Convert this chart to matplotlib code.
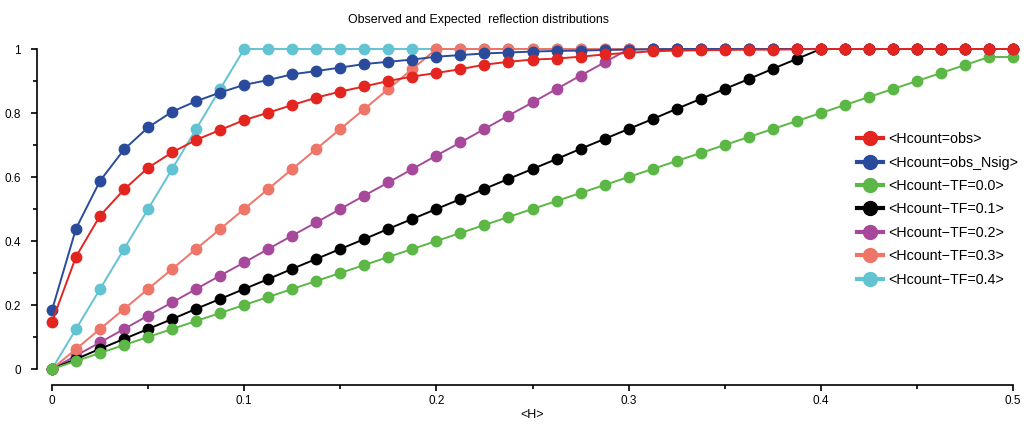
import matplotlib
matplotlib.use("Agg")
import matplotlib.pyplot as plt
from matplotlib.lines import Line2D
from matplotlib.ticker import MultipleLocator

plt.rcParams['font.family'] = ['Liberation Sans', 'DejaVu Sans']

# <H> values, step 0.0125
h = [0.0, 0.0125, 0.025, 0.0375, 0.05, 0.0625, 0.075, 0.0875, 0.1, 0.1125,
     0.125, 0.1375, 0.15, 0.1625, 0.175, 0.1875, 0.2, 0.2125, 0.225, 0.2375,
     0.25, 0.2625, 0.275, 0.2875, 0.3, 0.3125, 0.325, 0.3375, 0.35, 0.3625,
     0.375, 0.3875, 0.4, 0.4125, 0.425, 0.4375, 0.45, 0.4625, 0.475, 0.4875, 0.5]

obs = [0.147, 0.351, 0.479, 0.561, 0.629, 0.677, 0.716, 0.747, 0.778, 0.801,
       0.825, 0.848, 0.867, 0.883, 0.900, 0.914, 0.925, 0.937, 0.951, 0.960,
       0.967, 0.970, 0.976, 0.983, 0.988, 0.993, 0.995, 0.996, 0.997, 0.998,
       0.998, 0.999, 1.0, 1.0, 1.0, 1.0, 1.0, 1.0, 1.0, 1.0, 1.0]

obs_nsig = [0.184, 0.439, 0.588, 0.686, 0.755, 0.804, 0.837, 0.864, 0.888, 0.903,
            0.921, 0.931, 0.942, 0.953, 0.960, 0.967, 0.976, 0.981, 0.986, 0.989,
            0.992, 0.994, 0.995, 0.997, 0.998, 0.999, 1.0, 1.0, 1.0, 1.0,
            1.0, 1.0, 1.0, 1.0, 1.0, 1.0, 1.0, 1.0, 1.0, 1.0, 1.0]

tf00 = [0.0, 0.025, 0.05, 0.075, 0.1, 0.125, 0.15, 0.175, 0.2, 0.225,
        0.25, 0.275, 0.3, 0.325, 0.35, 0.375, 0.4, 0.425, 0.45, 0.475,
        0.5, 0.525, 0.55, 0.575, 0.6, 0.625, 0.65, 0.675, 0.7, 0.725,
        0.75, 0.775, 0.8, 0.825, 0.85, 0.875, 0.9, 0.925, 0.95, 0.975, 0.975]

tf01 = [0.0, 0.031, 0.063, 0.094, 0.125, 0.156, 0.188, 0.219, 0.25, 0.281,
        0.313, 0.344, 0.375, 0.406, 0.438, 0.469, 0.5, 0.531, 0.563, 0.594,
        0.625, 0.656, 0.688, 0.719, 0.75, 0.781, 0.813, 0.844, 0.875, 0.906,
        0.938, 0.969, 1.0, 1.0, 1.0, 1.0, 1.0, 1.0, 1.0, 1.0, 1.0]

tf02 = [0.0, 0.042, 0.083, 0.125, 0.167, 0.208, 0.25, 0.292, 0.333, 0.375,
        0.417, 0.458, 0.5, 0.542, 0.583, 0.625, 0.667, 0.708, 0.75, 0.792,
        0.833, 0.875, 0.917, 0.958, 1.0, 1.0, 1.0, 1.0, 1.0, 1.0,
        1.0, 1.0, 1.0, 1.0, 1.0, 1.0, 1.0, 1.0, 1.0, 1.0, 1.0]

tf03 = [0.0, 0.0625, 0.125, 0.1875, 0.25, 0.3125, 0.375, 0.4375, 0.5, 0.5625,
        0.625, 0.6875, 0.75, 0.8125, 0.875, 0.9375, 1.0, 1.0, 1.0, 1.0,
        1.0, 1.0, 1.0, 1.0, 1.0, 1.0, 1.0, 1.0, 1.0, 1.0,
        1.0, 1.0, 1.0, 1.0, 1.0, 1.0, 1.0, 1.0, 1.0, 1.0, 1.0]

tf04 = [0.0, 0.125, 0.25, 0.375, 0.5, 0.625, 0.75, 0.875, 1.0, 1.0,
        1.0, 1.0, 1.0, 1.0, 1.0, 1.0, 1.0, 1.0, 1.0, 1.0,
        1.0, 1.0, 1.0, 1.0, 1.0, 1.0, 1.0, 1.0, 1.0, 1.0,
        1.0, 1.0, 1.0, 1.0, 1.0, 1.0, 1.0, 1.0, 1.0, 1.0, 1.0]

labels = ['<Hcount=obs>', '<Hcount=obs_Nsig>', '<Hcount\u2212TF=0.0>', '<Hcount\u2212TF=0.1>',
          '<Hcount\u2212TF=0.2>', '<Hcount\u2212TF=0.3>', '<Hcount\u2212TF=0.4>']
series = [obs, obs_nsig, tf00, tf01, tf02, tf03, tf04]
colors = ['#e3241f', '#2a4b9b', '#5cb746', '#000000', '#a8489a', '#ee7567', '#62c3d3']
# drawing order, bottom to top
zorders = [9, 8, 7, 4, 3, 5, 2]

fig = plt.figure(figsize=(10.26, 4.26), dpi=100)
ax = fig.add_axes([52 / 1026, 57 / 426, 961 / 1026, 320 / 426])

for ys, c, z in zip(series, colors, zorders):
    ax.plot(h, ys, color=c, lw=1.4, marker='o', ms=7.5, mec=c, mfc=c,
            zorder=z, clip_on=False)

ax.set_xlim(0, 0.5)
ax.set_ylim(0, 1)
for s in ['top', 'right']:
    ax.spines[s].set_visible(False)
ax.spines['left'].set_position(('outward', 11))
ax.spines['bottom'].set_position(('outward', 11.5))
ax.spines['left'].set_bounds(0, 1)
ax.spines['bottom'].set_bounds(0, 0.5)
ax.spines['left'].set_linewidth(1.2)
ax.spines['bottom'].set_linewidth(1.2)

ax.set_xticks([0, 0.1, 0.2, 0.3, 0.4, 0.5])
ax.set_xticklabels(['0', '0.1', '0.2', '0.3', '0.4', '0.5'])
ax.set_yticks([0, 0.2, 0.4, 0.6, 0.8, 1])
ax.set_yticklabels(['0', '0.2', '0.4', '0.6', '0.8', '1'])
ax.xaxis.set_minor_locator(MultipleLocator(0.05))
ax.yaxis.set_minor_locator(MultipleLocator(0.1))
ax.tick_params(axis='both', which='major', length=4.5, width=1.2, labelsize=8.5)
ax.tick_params(axis='both', which='minor', length=3, width=1.2)
ax.tick_params(axis='y', which='major', pad=7)
ax.tick_params(axis='x', which='major', pad=3)

ax.set_xlabel('<H>', fontsize=9, labelpad=1.5)
fig.text(479 / 1026, 1 - 20 / 426, 'Observed and Expected  reflection distributions',
         ha='center', va='center', fontsize=8.9)

handles = [Line2D([], [], color=c, lw=3, marker='o', ms=10, mec=c, mfc=c) for c in colors]
ax.legend(handles, labels, loc='upper left', bbox_to_anchor=(850 / 1026, 1 - 125 / 426),
          bbox_transform=fig.transFigure, frameon=False, fontsize=10.3,
          handlelength=1.8, handletextpad=0.4, labelspacing=0.66, borderpad=0)

fig.savefig('out.png', dpi=100, facecolor='white')
